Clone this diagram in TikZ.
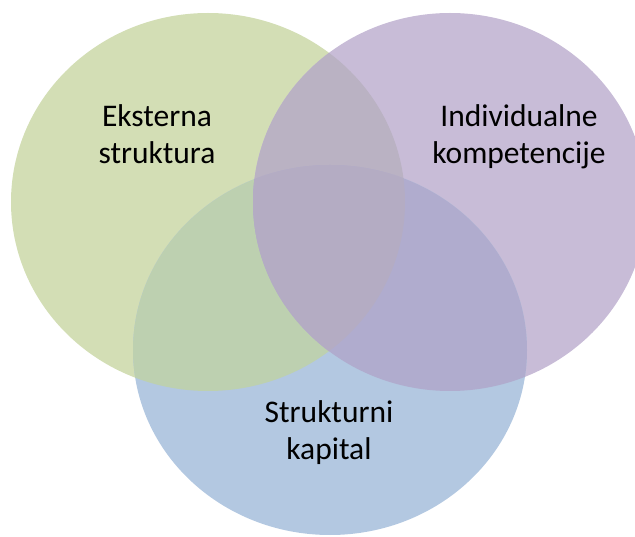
\documentclass[tikz,border=0pt]{standalone}
\usepackage{fontspec}
\setmainfont{Carlito}
\definecolor{extfill}{HTML}{D3DEB5}
\definecolor{indfill}{HTML}{C8BCD7}
\definecolor{strfill}{HTML}{B3C8E1}
\definecolor{extstr}{HTML}{BDD0B0}
\definecolor{extind}{HTML}{BAB2C3}
\definecolor{indstr}{HTML}{B0ACCE}
\definecolor{allthree}{HTML}{B4ACC3}
\tikzset{
  label text/.style={anchor=base, inner sep=0pt, text=black,
    font=\fontsize{31.5}{37}\selectfont},
}
\newcommand{\extshape}{(cE) ellipse [x radius=197, y radius=189]}
\newcommand{\indshape}{(cI) ellipse [x radius=197, y radius=189]}
\newcommand{\strshape}{(cS) ellipse [x radius=197, y radius=185]}
\begin{document}
\begin{tikzpicture}[x=1pt, y=-1pt]
  \useasboundingbox (0,0) rectangle (635,537);
  % circle centres
  \coordinate (cE) at (208,202);
  \coordinate (cI) at (450,202);
  \coordinate (cS) at (330,350);
  % single areas
  \fill[extfill] \extshape;
  \fill[indfill] \indshape;
  \fill[strfill] \strshape;
  % pairwise overlaps
  \begin{scope}
    \clip \extshape;
    \fill[extstr] \strshape;
    \fill[extind] \indshape;
  \end{scope}
  \begin{scope}
    \clip \indshape;
    \fill[indstr] \strshape;
  \end{scope}
  % common area
  \begin{scope}
    \clip \extshape;
    \clip \indshape;
    \fill[allthree] \strshape;
  \end{scope}
  % labels
  \node[label text] (ext) at (157,127)
    {\begin{tabular}[t]{@{}c@{}}Eksterna\\struktura\end{tabular}};
  \node[label text] (ind) at (519,127)
    {\begin{tabular}[t]{@{}c@{}}Individualne\\kompetencije\end{tabular}};
  \node[label text] (str) at (329,422)
    {\begin{tabular}[t]{@{}c@{}}Strukturni\\kapital\end{tabular}};
\end{tikzpicture}
\end{document}
